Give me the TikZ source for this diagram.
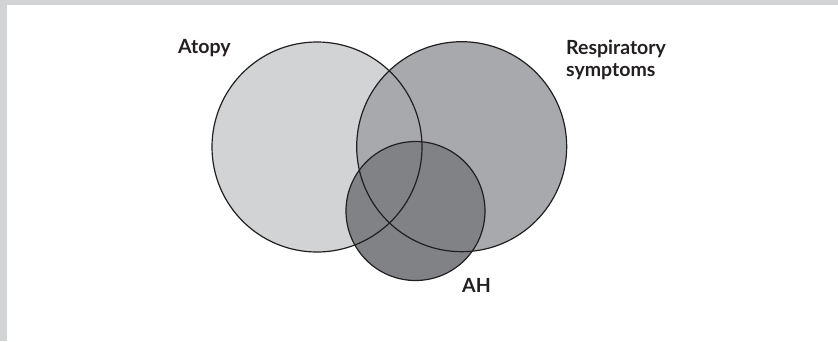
\documentclass[tikz,border=0pt]{standalone}
\usepackage{fontspec}
\setmainfont{Lato}
\definecolor{grA}{HTML}{D1D3D4}
\definecolor{grB}{HTML}{A7A9AC}
\definecolor{grC}{HTML}{808285}
\definecolor{ink}{HTML}{231F20}
\begin{document}
\begin{tikzpicture}[x=1pt,y=-1pt,
  ring/.style={draw=ink,line width=1.2pt},
  lab/.style={font=\fontsize{19.5}{22}\selectfont\bfseries,text=ink,inner sep=0pt}]
\useasboundingbox (0,0) rectangle (838,341);
\fill[grA] (0,0) rectangle (838,5);
\fill[grA] (0,0) rectangle (7,341);
\coordinate (ca) at (317,147);
\coordinate (cr) at (461.7,146.7);
\coordinate (ch) at (415.5,211);
\fill[grA] (ca) circle[radius=105];
\fill[grB] (cr) circle[radius=105];
\fill[grC] (ch) circle[radius=69.5];
\draw[ring] (ca) circle[radius=105];
\draw[ring] (cr) circle[radius=105];
\draw[ring] (ch) circle[radius=69.5];
\node[lab,anchor=base west] (atopy) at (178,53) {Atopy};
\node[lab,anchor=base west,align=left] (resp) at (566,76) {Respiratory\\symptoms};
\node[lab,anchor=base west] (ah) at (462,292) {AH};
\end{tikzpicture}
\end{document}
